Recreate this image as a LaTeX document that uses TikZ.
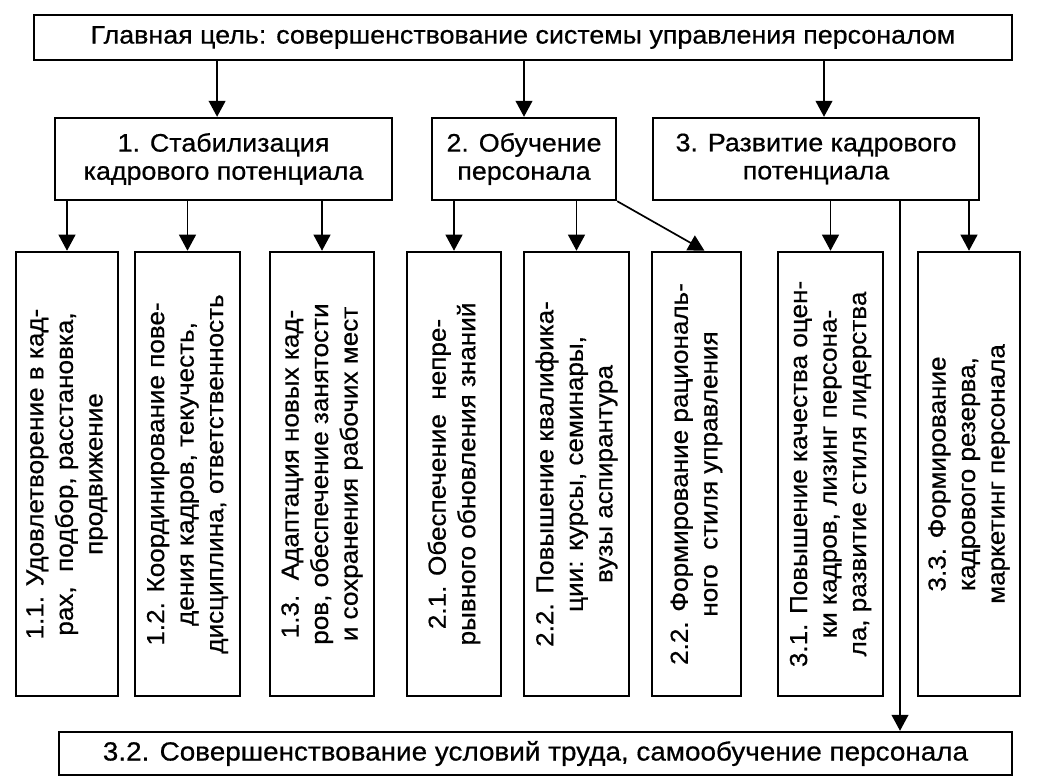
\documentclass[tikz,border=0pt]{standalone}
\usepackage{fontspec}
\setmainfont[FakeStretch=1.06, FakeBold=0.6]{Liberation Sans}
\usetikzlibrary{arrows.meta}
\begin{document}
\begin{tikzpicture}[x=0.025cm, y=-0.025cm,
  box/.style={draw, line width=1.7pt, inner sep=2pt, align=center,
    font=\fontsize{18}{20}\selectfont},
  colbox/.style={box, rotate=90, minimum width=11.1cm,
    font=\fontsize{17.5}{21}\selectfont},
  arr/.style={-{Triangle[length=0.4cm, width=0.42cm]}, line width=1.2pt}]
\useasboundingbox (0,0) rectangle (1040,782);
% goal and the three directions
\node[box, minimum width=24.45cm, minimum height=1.125cm] (goal) at (523,37.5)
  {Главная цель: совершенствование системы управления персоналом};
\node[box, minimum width=8.425cm, minimum height=2.05cm] (stab) at (223.5,159)
  {1. Стабилизация\\кадрового потенциала};
\node[box, minimum width=4.6cm, minimum height=2.05cm] (learn) at (524,159)
  {2. Обучение\\персонала};
\node[box, minimum width=8.15cm, minimum height=2.05cm] (devel) at (816,159)
  {3. Развитие кадрового\\потенциала};
% tasks
\node[colbox, minimum height=2.55cm] (s11) at (67,474)
  {1.1. Удовлетворение в кад-\\рах,\ \ подбор, расстановка,\\продвижение};
\node[colbox, minimum height=2.625cm] (s12) at (187.5,474)
  {1.2. Координирование пове-\\дения кадров, текучесть,\\дисциплина, ответственность};
\node[colbox, minimum height=2.6cm] (s13) at (322,474)
  {1.3.\ \ Адаптация новых кад-\\ров, обеспечение занятости\\и сохранения рабочих мест};
\node[colbox, minimum height=2.35cm] (s21) at (454,474)
  {2.1. Обеспечение\ \ непре-\\рывного обновления знаний};
\node[colbox, minimum height=2.625cm] (s22) at (576.5,474)
  {2.2. Повышение квалифика-\\ции: курсы, семинары,\\вузы аспирантура};
\node[colbox, minimum height=2.225cm] (s23) at (696.5,474)
  {2.2. Формирование рациональ-\\ного\ \ стиля управления};
\node[colbox, minimum height=2.625cm] (s31) at (830.5,474)
  {3.1. Повышение качества оцен-\\ки кадров, лизинг персона-\\ла, развитие стиля лидерства};
\node[colbox, minimum height=2.55cm] (s33) at (969,474)
  {3.3. Формирование\\кадрового резерва,\\маркетинг персонала};
\node[box, minimum width=23.825cm, minimum height=1.075cm,
  font=\fontsize{18.7}{20}\selectfont] (cond) at (535.5,753.5)
  {3.2. Совершенствование условий труда, самообучение персонала};
\coordinate (tap) at (900,0);
% connectors
\draw[arr] ([xshift=-0.16cm]stab.north |- goal.south) -- ([xshift=-0.16cm]stab.north);
\draw[arr] (goal.south -| learn.north) -- (learn.north);
\draw[arr] ([xshift=0.2cm]devel.north |- goal.south) -- ([xshift=0.2cm]devel.north);
\draw[arr] (stab.south -| s11.east) -- (s11.east);
\draw[arr] (stab.south -| s12.east) -- (s12.east);
\draw[arr] (stab.south -| s13.east) -- (s13.east);
\draw[arr] (learn.south -| s21.east) -- (s21.east);
\draw[arr] (learn.south -| s22.east) -- (s22.east);
\draw[arr] (learn.south east) -- ([xshift=0.2cm]s23.east);
\draw[arr] (devel.south -| s31.east) -- (s31.east);
\draw[arr] (devel.south -| s33.east) -- (s33.east);
\draw[arr] (devel.south -| tap) -- (cond.north -| tap);
\end{tikzpicture}
\end{document}
